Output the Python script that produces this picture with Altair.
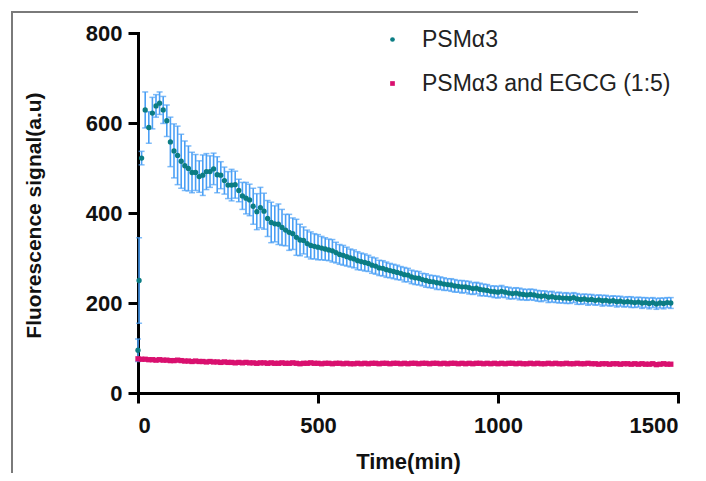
import altair as alt
import pandas as pd

# ---------------- data ----------------
SERIES = ["PSMα3", "PSMα3 and EGCG (1:5)"]
COLORS = ["#0b7d84", "#d9106f"]
ERR_COLOR = "#4a9ff5"

psm_time = [0, 3] + list(range(10, 1490, 10))
psm_mean = [95, 250,
    522, 629, 590, 622, 638, 644, 629, 605, 558, 538,
    528, 515, 505, 499, 490, 490, 481, 484, 492, 492,
    498, 485, 484, 472, 462, 462, 463, 450, 438, 433,
    429, 415, 403, 412, 404, 388, 379, 376, 375, 368,
    362, 357, 354, 346, 340, 339, 332, 328, 326, 324,
    322, 320, 318, 316, 312, 308, 306, 303, 300, 298,
    294, 292, 290, 288, 284, 282, 278, 277, 274, 272,
    270, 268, 266, 263, 262, 258, 256, 255, 252, 250,
    248, 247, 245, 244, 242, 241, 240, 238, 237, 236,
    236, 234, 232, 233, 230, 229, 228, 226, 225, 224,
    226, 224, 222, 221, 222, 220, 219, 218, 219, 218,
    216, 215, 216, 213, 214, 212, 212, 211, 211, 210,
    212, 209, 208, 209, 207, 208, 206, 207, 205, 206,
    204, 205, 203, 204, 202, 203, 202, 201, 202, 200,
    201, 199, 201, 198, 200, 199, 201, 200]
psm_sd = [25, 95,
    15, 40, 35, 35, 25, 25, 30, 35, 55, 60,
    65, 60, 55, 50, 45, 40, 35, 45, 40, 35,
    35, 40, 30, 30, 30, 35, 30, 25, 30, 35,
    35, 40, 40, 45, 40, 40, 45, 40, 45, 40,
    35, 40, 35, 40, 35, 30, 30, 30, 28, 28,
    26, 25, 24, 25, 23, 22, 22, 21, 20, 20,
    20, 19, 19, 18, 18, 18, 17, 17, 17, 16,
    16, 16, 15, 16, 15, 15, 15, 15, 14, 15,
    14, 14, 15, 14, 14, 13, 14, 14, 13, 14,
    13, 14, 13, 13, 14, 13, 13, 12, 13, 13,
    13, 12, 13, 12, 12, 13, 12, 12, 12, 12,
    12, 12, 11, 12, 12, 11, 12, 11, 12, 11,
    11, 12, 11, 11, 12, 11, 11, 11, 12, 11,
    11, 11, 12, 11, 11, 11, 12, 11, 11, 12,
    11, 12, 11, 12, 11, 12, 11, 12]

egcg_time = list(range(0, 1490, 10))
egcg_mean = [
    76, 75, 75, 74, 74, 73, 74, 73, 73, 72,
    72, 73, 72, 71, 71, 70, 71, 70, 70, 69,
    70, 69, 69, 68, 69, 68, 68, 67, 68, 67,
    68, 67, 67, 66, 67, 67, 66, 67, 66, 66,
    67, 66, 66, 67, 66, 65, 66, 66, 67, 66,
    66, 65, 66, 66, 65, 66, 66, 65, 66, 65,
    65, 66, 65, 66, 65, 66, 66, 65, 66, 66,
    65, 66, 66, 65, 66, 65, 66, 66, 65, 66,
    66, 65, 66, 66, 65, 66, 65, 66, 66, 65,
    66, 65, 66, 65, 66, 66, 65, 66, 65, 66,
    65, 66, 65, 66, 66, 65, 66, 65, 65, 66,
    65, 66, 65, 65, 66, 65, 66, 65, 65, 66,
    65, 65, 66, 65, 65, 66, 65, 65, 64, 65,
    65, 64, 65, 65, 64, 65, 65, 64, 65, 64,
    65, 64, 64, 65, 63, 64, 65, 64, 64]
egcg_sd = [3] * len(egcg_mean)

x_ticks = [0, 500, 1000, 1500]
y_ticks = [0, 200, 400, 600, 800]

# ---------------- tables ----------------
psm = pd.DataFrame({"t": psm_time, "v": psm_mean, "sd": psm_sd, "series": SERIES[0]})
egcg = pd.DataFrame({"t": egcg_time, "v": egcg_mean, "sd": egcg_sd, "series": SERIES[1]})
for d in (psm, egcg):
    d["lo"] = d["v"] - d["sd"]
    d["hi"] = d["v"] + d["sd"]
both = pd.concat([psm, egcg], ignore_index=True)

FONT = "Liberation Sans"

xs = alt.Scale(domain=[0, 1500], nice=False, zero=False)
ys = alt.Scale(domain=[0, 800], nice=False)

x_axis = alt.Axis(values=x_ticks, title="Time(min)", grid=False, format="d",
                  labelPadding=12, titleFontSize=22,
                  titleY=75, titleBaseline="alphabetic")
y_axis = alt.Axis(values=y_ticks, title="Fluorescence signal(a.u)", grid=False, format="d",
                  labelPadding=6, titleX=-104, titleY=182, titleBaseline="middle")

X = alt.X("t:Q", scale=xs, axis=x_axis)
Y = alt.Y("v:Q", scale=ys, axis=y_axis)

base_psm = alt.Chart(psm)
base_egcg = alt.Chart(egcg)

psm_bars = base_psm.mark_rule(color=ERR_COLOR, strokeWidth=1.6).encode(
    x=X, y=alt.Y("lo:Q", scale=ys, axis=y_axis), y2="hi:Q")
psm_cap_hi = base_psm.mark_tick(color=ERR_COLOR, orient="horizontal", size=6, thickness=1.5).encode(
    x=X, y=alt.Y("hi:Q", scale=ys, axis=y_axis))
psm_cap_lo = base_psm.mark_tick(color=ERR_COLOR, orient="horizontal", size=6, thickness=1.5).encode(
    x=X, y=alt.Y("lo:Q", scale=ys, axis=y_axis))
egcg_bars = base_egcg.mark_rule(color="#e0508f", strokeWidth=1.2).encode(
    x=X, y=alt.Y("lo:Q", scale=ys, axis=y_axis), y2="hi:Q")

points = alt.Chart(both).mark_point(filled=True, opacity=1).encode(
    x=X, y=Y,
    color=alt.Color("series:N", scale=alt.Scale(domain=SERIES, range=COLORS),
                    legend=alt.Legend(title=None, orient="none", legendX=243, legendY=-5,
                                      padding=0, labelOffset=18, rowPadding=20,
                                      symbolSize=22, labelFont=FONT, labelFontSize=23,
                                      labelColor="#222222", labelLimit=400)),
    shape=alt.Shape("series:N", scale=alt.Scale(domain=SERIES, range=["circle", "square"]),
                    legend=None),
    size=alt.value(28),
)

# decorative frame of the original figure (left and top edges only)
frame_left = alt.Chart(pd.DataFrame({"k": [0]})).mark_rule(color="#7a7a7a", strokeWidth=2).encode(
    x=alt.value(-126), y=alt.value(-22), y2=alt.value(440))
frame_top = alt.Chart(pd.DataFrame({"k": [0]})).mark_rule(color="#7a7a7a", strokeWidth=2).encode(
    x=alt.value(-127), x2=alt.value(500), y=alt.value(-21))

chart = alt.layer(
    egcg_bars, psm_bars, psm_cap_hi, psm_cap_lo, points, frame_left, frame_top
).properties(
    width=540, height=360,
    autosize=alt.AutoSizeParams(type="none"),
    padding={"left": 130, "top": 25, "right": 18, "bottom": 82},
).configure_view(stroke=None).configure_axis(
    domainColor="black", domainWidth=3, tickColor="black", tickWidth=3, tickSize=10,
    labelFont=FONT, labelFontSize=22, labelFontWeight="bold", labelColor="#111111",
    titleFont=FONT, titleFontSize=21, titleFontWeight="bold",
    titleColor="#111111", domainCap="square",
)

chart.save("out.html", embed_options={"renderer": "svg", "actions": False})
